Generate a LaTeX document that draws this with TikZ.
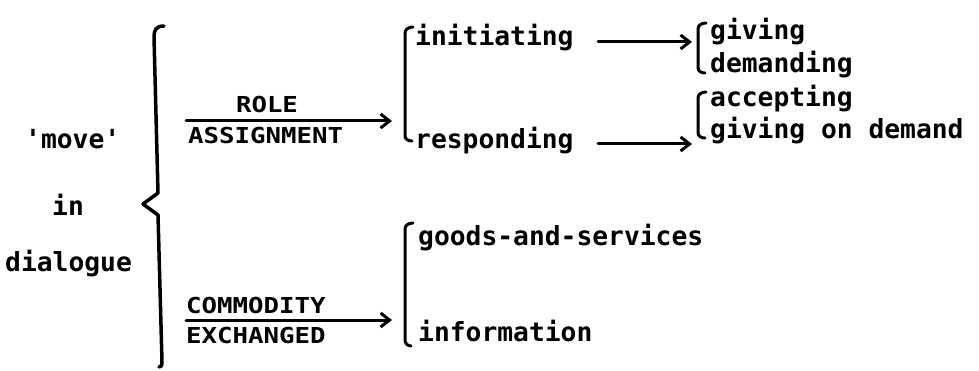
\documentclass[tikz,border=0pt]{standalone}
\usepackage{fontspec}
\usepackage{graphicx}
\newfontfamily\typew{DejaVu Sans Mono}
\usetikzlibrary{arrows.meta}
\tikzset{
  lw/.style={font=\typew\bfseries\fontsize{26.3}{30}\selectfont, inner sep=0pt, anchor=base west},
  cw/.style={font=\typew\bfseries\fontsize{22}{26}\selectfont, inner sep=0pt, anchor=base west},
  ink/.style={line width=3pt, line cap=round, line join=round},
  arr/.style={ink, -{Straight Barb[length=9pt,width=14pt]}}
}
\newcommand{\wide}[1]{\scalebox{1.17}[1]{#1}}
\begin{document}
\begin{tikzpicture}[x=1pt,y=-1pt]
  \fill[white] (0,0) rectangle (979,371);
  \useasboundingbox (0,0) rectangle (979,371);

  % left-hand term
  \node[lw] (move) at (25,149) {'move'};
  \node[lw] (in)   at (52,216) {in};
  \node[lw] (dlg)  at (5,271)  {dialogue};

  % main brace
  \draw[ink, line width=3.5pt] (164,26) .. controls (156,26) and (154,30) .. (154,37)
        -- (158,193) -- (143,204) -- (158,215) -- (162,362)
        .. controls (162,366) and (161,367) .. (159,367);

  % role assignment system
  \node[cw, anchor=base] (role) at (267,113) {\wide{ROLE}};
  \node[cw] (assign) at (188,144) {\wide{ASSIGNMENT}};
  \coordinate (r0) at (186,121);
  \coordinate (r1) at (392,121);
  \draw[arr] (r0) -- (r1);

  \draw[ink] (413,27) to[out=180,in=90] (405,33) -- (405,136) to[out=-90,in=180] (412,141);
  \node[lw] (init) at (415,46)  {initiating};
  \node[lw] (resp) at (415,149) {responding};

  \coordinate (i0) at (598,42);
  \coordinate (i1) at (692,42);
  \draw[arr] (i0) -- (i1);
  \coordinate (s0) at (598,144);
  \coordinate (s1) at (692,144);
  \draw[arr] (s0) -- (s1);

  \draw[ink] (706,23) to[out=180,in=90] (698,29) -- (698,68) to[out=-90,in=180] (705,73);
  \node[lw] (give) at (710,40) {giving};
  \node[lw] (dem)  at (710,73) {demanding};

  \draw[ink] (706,92) to[out=180,in=90] (698,98) -- (698,133) to[out=-90,in=180] (705,138);
  \node[lw] (acc)  at (710,107) {accepting};
  \node[lw] (god)  at (710,139) {giving on demand};

  % commodity exchanged system
  \node[cw] (comm) at (186,313) {\wide{COMMODITY}};
  \node[cw] (exch) at (186,343) {\wide{EXCHANGED}};
  \coordinate (c0) at (186,320);
  \coordinate (c1) at (392,320);
  \draw[arr] (c0) -- (c1);

  \draw[ink] (413,223) to[out=180,in=90] (405,229) -- (405,340) to[out=-90,in=180] (411,346);
  \node[lw] (goods) at (418,246) {goods-and-services};
  \node[lw] (info)  at (418,341) {information};
\end{tikzpicture}
\end{document}
